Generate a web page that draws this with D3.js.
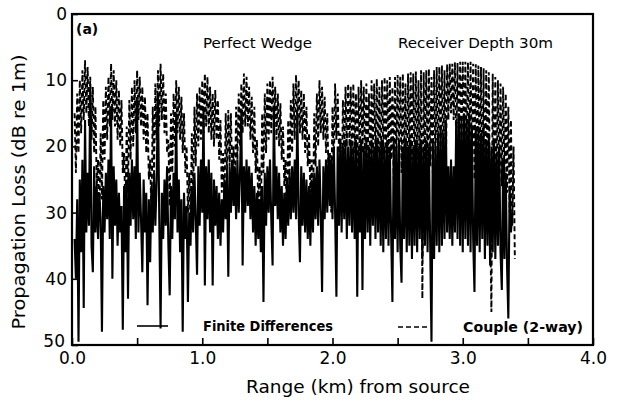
<!DOCTYPE html>
<html><head><meta charset="utf-8">
<script src="https://cdn.jsdelivr.net/npm/d3@7"></script>
<style>
body{margin:0;background:#fff}
svg{display:block}
text{font-family:"DejaVu Sans",sans-serif;fill:#000}
</style>
</head><body>
<svg id="c" width="621" height="409"></svg>
<script>
// ---- data ----
const xTickValues = [0, 0.5, 1, 1.5, 2, 2.5, 3, 3.5, 4];
const xTickLabels = {0: "0.0", 1: "1.0", 2: "2.0", 3: "3.0", 4: "4.0"};
const yTickValues = [0, 10, 20, 30, 40, 50];
const gridStartKm = 0.02;
const gridStepKm = 0.01;
// Couple (2-way), dashed
const coupleLoss = [
15,24,12,21,10,18,8.5,16,7,15,
8,17,9.5,19,11,21,14,26,22,31,
18,28,13,22,11,19,9.5,17,7.5,16,
8.5,17,10,19,11.5,20,13,24,21,30,
17,27,13,22,11,20,10,18,8.5,16,
9.5,17,11,19,12.5,21,15,25,22,31,
14,24,10.5,19,8.5,17,7.5,16,9,18,
12,21,19,29,15,24,12,20,10,18,
11,19,12.5,21,15,24,20,30,24,32,
18,28,14,23,12,20,11,19,10,18,
9,17,9.5,18,11,19,12,20,11.5,19,
13,22,16,27,21,30,15,24,14.5,23,
15,25,20,29,14,22,12,20,10.5,18,
9,17,9.5,17,11,19,12.5,21,14,24,
19,29,23,31,15,24,12,21,10.5,19,
10,18,9.5,17,11,19,12,20,13.5,22,
17,26,22,31,16,25,13,21,10.5,19,
9.2,17,10,18,11.5,19,12,21,14,23,
18,27,22,30,15,23,12,20,10,18,
11,19,12.5,21,15,25,21,30,14,23,
10.5,19,12,21,18,28,13,22,11,20,
10.5,20,11,22,10.5,21,12,24,11,22,
10,21,11,23,10.5,22,12,25,10,21,
10.5,22,9.8,21,11,24,10,22,9.5,21,
10,23,9.5,22,11,25,9.5,22,9.2,21,
9.5,24,9,22,10.5,26,9,23,8.8,22,
9,24,8.7,22,10,25,8.5,43,8.8,22,
8.5,24,8.3,23,9.5,24,8.5,23,8,22,
8,22,7.8,23,8.5,24,7.6,16,7.5,15,
7.5,16,7.3,20,7.4,21,7.2,20,7.2,21,
7.2,22,7.3,24,7.2,23,7.5,25,7.6,24,
7.8,26,8,28,8.2,32,8.5,28,8.8,30,
45,9,30,9.5,28,10,27,10.5,26,11,
25,12,27,14,30,16,32,20,37
];
// Finite Differences, solid
const fdLoss = [
34,40,28,49.5,25,36,22,44.4,16,33,
24,32,11,35,39,23,33,26,34,27,
31,48,26,33,24,31,22,34,14,40,
23,32,25,35,27,33,29,47.7,26,36,
25,43,24,32,22,31,23,34,13,33,
24,31,39,25,33,27,44,28,37.5,26,
33,24,32,25,12,31,47.5,27,34,25,
32,23,35,42.5,26,34,24,31,15,33,
25,36,28,48,27,34,29,43.5,30,35,
26,33,24,31,39.4,23,32,22,30,14,
41,23,31,22,33,24,41,25,32,26,
34,27,35,28,33,25,31,24,39.7,23,
30,22,29,23,31,22,30,24,15,38,
23,30,22,29,23,31,24,33,26,35,
27,34,28,36,26,43.5,24,32,23,30,
22,31,38,14,29,23,31,24,33,26,
35,27,34,25,32,24,31,23,30,22,
31,15,30,37.5,23,32,24,33,25,34,
26,35,25,33,24,31,23,32,22,30,
42,23,31,22,30,21,29,22,31,20,
30,42.7,20,32,19,33,20,31,19,34,
20,32,19,33,20,34,19,42.7,20,33,
19,41.7,20,34,19,33,20,35,19,32,
20,34,19,33,20,35,19,36,20,34,
19,35,20,33,43.5,19,34,20,36,19,
35,40.6,20,34,19,36,20,35,19,37,
20,35,19,36,20,34,19,37,20,35,
19,36,20,35,49.5,19,37,20,35,18,
36,17,35,18,34,16,33,23,34,22,
35,23,33,16,34,15,35,16,36,15,
34,16,35,15,36,17,34,42,17,35,
17,36,18,34,17,37,19,35,18,38,
20,36,19,37,21,35,20,36,41.7,22,
37,24,38,46,26,33,30
];

// ---- chart ----
const svg = d3.select("#c");
const L = 72, R = 593, T = 14, B = 345;
const x = d3.scaleLinear().domain([0, 4]).range([L, R]);
const y = d3.scaleLinear().domain([0, 50]).range([T, B]);

const toPts = arr => arr.map((v, i) => [gridStartKm + i * gridStepKm, v]);
const line = d3.line().x(d => x(d[0])).y(d => y(d[1]));

svg.append("path").datum(toPts(coupleLoss))
  .attr("d", line).attr("fill", "none").attr("stroke", "#000")
  .attr("stroke-width", 1.9).attr("stroke-dasharray", "5,3");

svg.append("path").datum(toPts(fdLoss))
  .attr("d", line).attr("fill", "none").attr("stroke", "#000")
  .attr("stroke-width", 2.1);

// frame
svg.append("rect").attr("x", L).attr("y", T).attr("width", R - L).attr("height", B - T)
  .attr("fill", "none").attr("stroke", "#000").attr("stroke-width", 2.2);

// axes
const xAxis = d3.axisBottom(x).tickValues(xTickValues)
  .tickFormat(d => xTickLabels[d] || "").tickSize(-7).tickPadding(7);
const gx = svg.append("g").attr("transform", `translate(0,${B})`).call(xAxis);
gx.select(".domain").remove();
gx.selectAll("line").attr("stroke-width", 1.6);
gx.selectAll("text").style("font-size", "17px").attr("font-family", null);

const yAxis = d3.axisLeft(y).tickValues(yTickValues).tickSize(-6).tickPadding(5);
const gy = svg.append("g").attr("transform", `translate(${L},0)`).call(yAxis);
gy.select(".domain").remove();
gy.selectAll("line").attr("stroke-width", 1.6);
gy.selectAll("text").style("font-size", "17px").attr("font-family", null);
gy.selectAll(".tick").filter(d => d === 50).select("text").attr("y", -4).attr("x", -7);

// titles
svg.append("text").attr("x", 358).attr("y", 393).attr("text-anchor", "middle")
  .style("font-size", "17px").attr("textLength", 224).attr("lengthAdjust", "spacingAndGlyphs")
  .text("Range (km) from source");
svg.append("text").attr("transform", "translate(25,192) rotate(-90)").attr("text-anchor", "middle")
  .style("font-size", "17px").attr("textLength", 275).attr("lengthAdjust", "spacingAndGlyphs")
  .text("Propagation Loss (dB re 1m)");

// annotations
svg.append("text").attr("x", 76).attr("y", 34).style("font-size", "14px").style("font-weight", "bold").text("(a)");
svg.append("text").attr("x", 203).attr("y", 48).style("font-size", "14px")
  .attr("textLength", 109).attr("lengthAdjust", "spacingAndGlyphs").text("Perfect Wedge");
svg.append("text").attr("x", 398).attr("y", 48).style("font-size", "14px")
  .attr("textLength", 155).attr("lengthAdjust", "spacingAndGlyphs").text("Receiver Depth 30m");

// legend
svg.append("line").attr("x1", 137).attr("x2", 168).attr("y1", 326).attr("y2", 326)
  .attr("stroke", "#000").attr("stroke-width", 1.6);
svg.append("text").attr("x", 203).attr("y", 331).style("font-size", "14px").style("font-weight", "bold")
  .attr("textLength", 130).attr("lengthAdjust", "spacingAndGlyphs").text("Finite Differences");
svg.append("line").attr("x1", 398).attr("x2", 430).attr("y1", 327).attr("y2", 327)
  .attr("stroke", "#000").attr("stroke-width", 1.6).attr("stroke-dasharray", "5,3");
svg.append("text").attr("x", 463).attr("y", 332).style("font-size", "14px").style("font-weight", "bold")
  .attr("textLength", 120).attr("lengthAdjust", "spacingAndGlyphs").text("Couple (2-way)");
</script>
</body></html>
